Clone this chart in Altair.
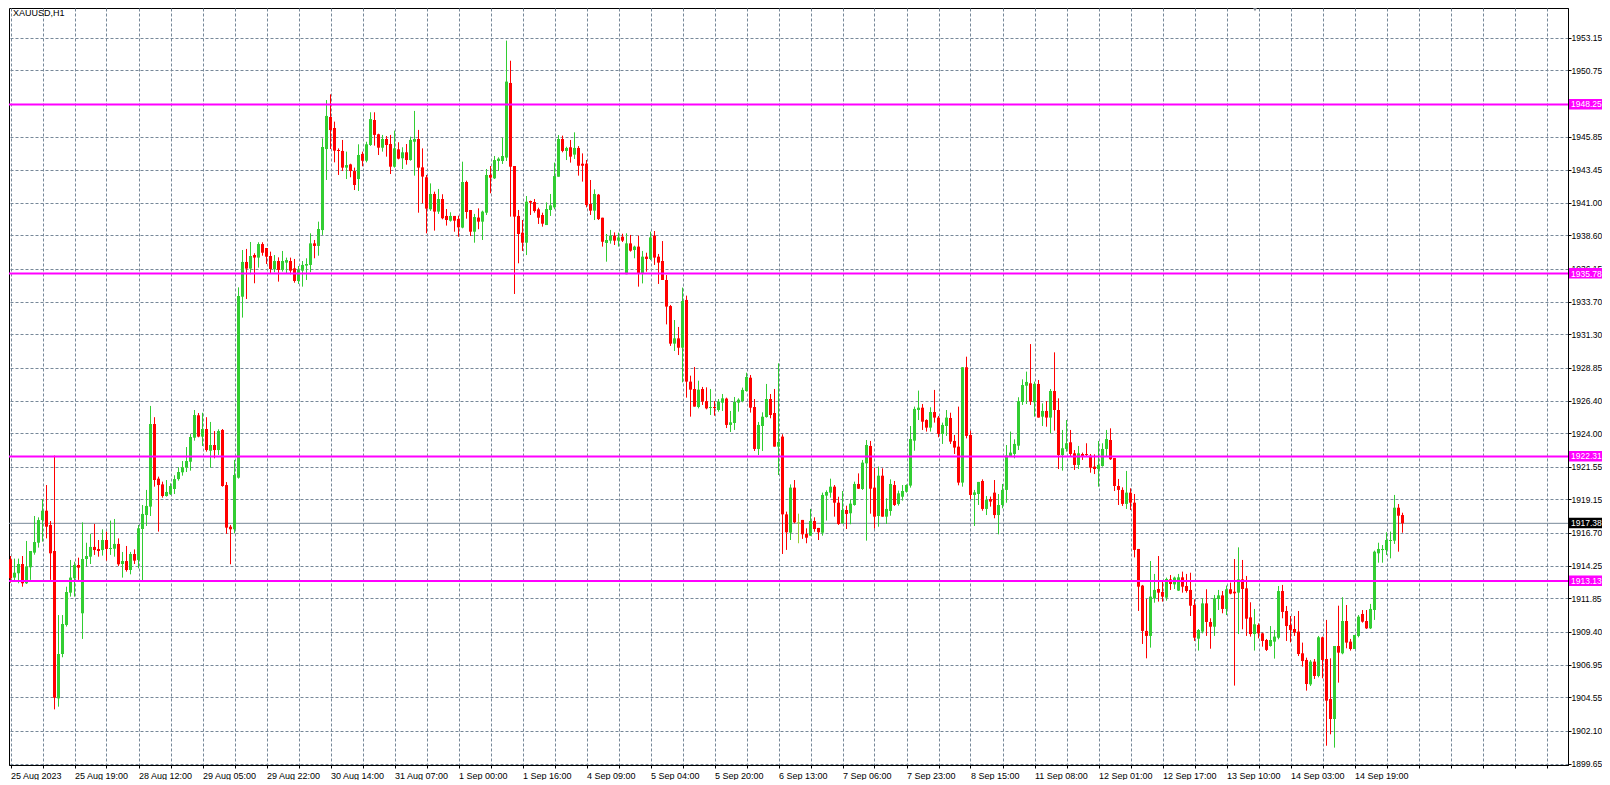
import json
import altair as alt
import pandas as pd

# ---------------- data (XAUUSD, H1) ----------------
OPEN = [1914.73,1913.38,1913.70,1914.38,1912.96,1914.14,1915.22,1915.95,1917.62,1918.31,
1917.26,1915.34,1904.48,1907.75,1909.89,1912.27,1913.33,1914.31,1910.75,1914.75,
1914.92,1915.64,1915.49,1915.41,1916.15,1915.51,1915.51,1915.86,1914.38,1914.60,
1913.94,1915.12,1914.68,1916.96,1917.99,1918.61,1924.70,1920.67,1920.25,1919.39,
1919.52,1919.91,1920.64,1921.14,1921.48,1921.92,1923.69,1925.34,1923.77,1924.33,
1922.73,1923.15,1922.78,1924.26,1920.20,1917.13,1916.94,1920.74,1934.08,1936.64,
1936.15,1937.15,1936.96,1937.96,1937.67,1937.08,1936.12,1936.71,1936.05,1936.59,
1936.71,1936.17,1935.24,1936.00,1936.37,1936.42,1938.01,1937.82,1938.99,1944.96,
1947.32,1946.51,1944.89,1944.82,1943.59,1943.83,1943.34,1942.75,1944.60,1944.10,
1945.26,1947.10,1946.05,1945.06,1945.70,1945.33,1943.66,1944.94,1944.28,1944.72,
1944.15,1945.50,1945.70,1943.61,1942.88,1940.52,1941.65,1940.35,1941.28,1940.03,
1939.68,1940.03,1939.81,1939.17,1942.53,1940.47,1938.87,1939.91,1939.61,1940.27,
1943.05,1942.80,1944.08,1944.08,1944.33,1949.83,1943.71,1940.03,1938.80,1938.06,
1941.13,1941.06,1940.52,1940.10,1939.36,1940.47,1940.66,1942.92,1945.70,1944.82,
1945.09,1944.55,1945.04,1943.88,1943.88,1940.91,1940.42,1941.60,1939.90,1938.04,
1938.21,1938.58,1938.21,1938.50,1935.73,1938.01,1937.52,1937.77,1935.80,1937.03,
1936.86,1938.58,1937.03,1936.71,1935.31,1933.39,1930.62,1931.01,1930.32,1933.84,
1927.82,1927.28,1925.95,1927.28,1926.39,1925.90,1925.95,1925.73,1926.27,1926.57,
1924.63,1924.77,1926.27,1926.39,1927.13,1928.11,1925.95,1922.86,1924.55,1925.21,
1926.54,1925.51,1923.03,1923.77,1918.04,1916.69,1920.01,1917.45,1917.63,1916.59,
1916.47,1917.55,1917.04,1916.69,1919.42,1919.64,1920.08,1918.90,1917.38,1918.36,
1918.12,1918.73,1920.28,1919.91,1921.80,1923.08,1920.01,1917.92,1920.89,1917.87,
1918.29,1920.20,1918.80,1919.34,1919.71,1920.16,1923.47,1925.73,1925.90,1924.99,
1924.43,1925.58,1925.17,1923.96,1924.55,1925.14,1923.45,1923.03,1920.38,1928.88,
1923.89,1919.47,1919.54,1920.50,1918.44,1919.17,1919.64,1917.99,1918.73,1919.84,
1922.29,1922.49,1923.10,1926.32,1927.52,1927.70,1926.30,1927.65,1925.24,1925.66,
1925.17,1927.13,1925.73,1922.41,1922.86,1923.35,1922.54,1921.68,1922.49,1922.49,
1922.37,1921.56,1921.38,1921.60,1922.86,1923.52,1922.19,1920.13,1919.84,1918.81,
1919.64,1918.90,1915.49,1912.79,1909.45,1909.08,1911.85,1912.54,1912.32,1911.90,
1913.25,1912.88,1912.42,1913.40,1912.76,1912.47,1911.36,1908.88,1909.40,1911.48,
1910.11,1909.76,1911.80,1912.07,1911.07,1912.52,1912.34,1912.27,1913.25,1912.59,
1910.45,1909.22,1909.89,1909.27,1908.78,1908.34,1908.66,1908.95,1912.39,1910.92,
1909.89,1909.59,1909.40,1907.80,1907.31,1905.51,1907.19,1906.13,1908.98,1907.38,
1904.43,1902.96,1908.34,1907.80,1910.18,1908.66,1908.12,1909.08,1910.70,1910.18,
1909.64,1910.99,1915.17,1915.41,1915.41,1916.10,1916.10,1918.53,1917.99]

HIGH = [1914.97,1914.78,1914.78,1914.97,1916.08,1915.34,1917.92,1917.82,1919.15,1920.20,
1917.55,1922.37,1910.62,1910.62,1912.71,1914.68,1914.55,1914.85,1917.45,1915.95,
1916.59,1917.33,1916.15,1916.94,1916.77,1917.58,1917.70,1916.27,1915.27,1915.71,
1915.27,1915.46,1917.26,1918.73,1919.84,1926.03,1925.20,1920.82,1920.45,1920.57,
1920.33,1920.92,1921.51,1921.97,1923.00,1923.96,1925.73,1925.51,1925.53,1925.20,
1924.85,1924.18,1924.31,1924.33,1920.42,1917.26,1922.05,1934.77,1937.52,1937.60,
1938.11,1937.28,1938.09,1938.09,1937.67,1937.40,1937.15,1936.98,1937.45,1936.96,
1936.96,1936.86,1936.34,1936.71,1936.91,1938.75,1938.26,1939.61,1945.75,1948.57,
1948.99,1946.98,1945.01,1945.63,1944.77,1943.88,1943.59,1945.31,1944.77,1945.50,
1947.67,1947.67,1946.09,1946.00,1945.92,1946.00,1946.32,1945.46,1945.09,1945.33,
1945.87,1947.77,1946.37,1945.01,1943.05,1942.43,1941.82,1942.02,1941.63,1940.54,
1940.30,1940.03,1940.05,1944.03,1942.63,1940.47,1940.18,1940.59,1940.42,1943.49,
1943.71,1944.45,1944.35,1945.80,1952.95,1951.47,1943.71,1940.47,1939.73,1941.50,
1941.16,1941.28,1940.64,1940.27,1941.03,1941.65,1943.96,1945.99,1945.95,1945.13,
1945.63,1946.19,1945.18,1944.64,1944.15,1942.68,1941.99,1941.65,1939.90,1938.70,
1939.00,1938.82,1938.80,1938.72,1938.75,1938.63,1937.84,1938.58,1937.45,1937.32,
1938.87,1938.92,1937.23,1938.18,1935.68,1933.47,1932.36,1931.85,1934.75,1934.16,
1928.26,1928.90,1927.89,1927.43,1927.40,1927.28,1926.39,1926.54,1926.91,1926.64,
1925.66,1926.69,1926.59,1927.38,1928.48,1928.31,1926.54,1924.85,1925.56,1927.65,
1926.91,1927.28,1929.17,1923.94,1918.24,1920.25,1920.57,1918.09,1917.63,1917.01,
1918.44,1917.82,1917.04,1919.64,1919.81,1920.67,1920.20,1919.34,1919.76,1918.68,
1919.15,1920.45,1921.06,1922.05,1923.52,1923.45,1921.48,1921.56,1921.43,1919.22,
1920.62,1920.50,1919.79,1920.20,1920.25,1924.55,1925.98,1927.16,1926.17,1925.04,
1925.93,1927.21,1925.29,1924.80,1925.73,1925.53,1923.89,1925.98,1928.88,1929.66,
1924.21,1919.84,1920.43,1920.62,1919.39,1919.35,1920.57,1919.54,1920.28,1923.15,
1924.14,1923.57,1926.67,1927.99,1928.56,1930.59,1927.82,1927.94,1926.22,1926.39,
1927.28,1929.98,1926.59,1924.26,1924.99,1924.26,1922.78,1923.08,1922.59,1923.28,
1922.49,1922.46,1923.45,1923.28,1924.26,1924.38,1922.19,1920.65,1920.03,1921.24,
1919.96,1919.54,1915.49,1912.84,1911.80,1914.60,1913.65,1914.97,1913.20,1913.38,
1913.57,1913.45,1913.65,1913.82,1913.65,1913.74,1911.78,1909.59,1911.85,1912.52,
1910.38,1912.10,1912.47,1912.39,1912.79,1913.01,1914.75,1915.61,1914.68,1913.50,
1911.56,1911.07,1910.01,1909.32,1908.86,1909.81,1909.52,1912.76,1912.84,1911.29,
1910.55,1910.55,1910.92,1908.59,1907.48,1907.31,1907.38,1909.08,1909.03,1910.26,
1907.43,1908.34,1911.31,1911.93,1911.36,1908.86,1909.15,1910.62,1910.99,1910.99,
1911.44,1915.37,1915.95,1915.78,1916.72,1916.77,1919.47,1918.80,1918.16]

LOW = [1913.01,1913.06,1912.96,1912.71,1912.91,1913.21,1915.07,1915.59,1916.03,1916.27,
1913.21,1903.67,1903.87,1907.51,1909.77,1911.98,1911.98,1913.21,1908.86,1914.19,
1914.38,1915.05,1914.92,1915.00,1914.63,1915.05,1914.92,1914.24,1913.38,1913.82,
1913.62,1914.38,1914.06,1913.20,1917.18,1917.92,1920.08,1916.77,1919.27,1919.35,
1919.47,1919.54,1920.52,1920.89,1921.16,1921.26,1923.47,1923.72,1923.08,1922.66,
1921.48,1922.17,1922.42,1920.08,1916.60,1914.36,1916.64,1920.67,1932.54,1933.91,
1935.73,1935.07,1936.22,1937.10,1936.49,1935.80,1935.88,1935.19,1935.93,1935.80,
1935.73,1935.11,1935.02,1934.82,1935.31,1935.88,1936.91,1937.10,1938.63,1942.68,
1944.96,1943.98,1943.05,1943.34,1942.75,1942.88,1941.94,1941.87,1943.69,1943.98,
1945.19,1945.21,1944.52,1944.77,1944.40,1943.12,1943.59,1944.20,1943.49,1943.81,
1944.10,1943.00,1940.27,1940.96,1938.75,1940.40,1938.95,1940.18,1939.78,1939.32,
1939.61,1938.87,1938.50,1939.12,1939.83,1938.55,1938.06,1939.05,1938.26,1940.10,
1941.70,1942.75,1943.34,1943.86,1944.08,1939.98,1934.28,1936.54,1937.45,1937.15,
1940.10,1940.27,1939.44,1939.24,1939.36,1940.03,1940.52,1942.92,1944.72,1944.15,
1943.96,1944.23,1943.00,1942.56,1940.66,1940.10,1939.73,1939.73,1937.77,1936.66,
1937.99,1937.89,1937.77,1938.11,1935.73,1937.40,1936.91,1934.82,1935.06,1935.92,
1936.78,1936.42,1935.02,1935.31,1932.04,1930.45,1930.08,1929.78,1927.77,1926.64,
1925.24,1925.98,1925.85,1926.10,1925.78,1925.36,1925.31,1925.61,1925.66,1924.40,
1924.11,1924.26,1925.61,1926.30,1927.08,1925.54,1922.71,1922.41,1922.71,1925.17,
1925.12,1923.03,1920.94,1915.12,1915.42,1916.15,1917.38,1915.91,1916.23,1915.91,
1916.47,1916.76,1916.15,1916.47,1917.58,1919.27,1917.87,1917.26,1917.38,1916.96,
1917.31,1918.68,1919.91,1919.84,1916.10,1918.09,1916.99,1917.13,1917.87,1917.33,
1917.94,1918.66,1918.68,1919.05,1919.64,1920.01,1922.73,1924.99,1924.26,1924.14,
1924.14,1924.80,1923.72,1923.23,1923.82,1923.23,1922.49,1920.18,1920.08,1923.64,
1919.15,1917.18,1918.73,1918.31,1917.99,1918.61,1917.75,1916.57,1918.49,1918.90,
1922.29,1922.17,1922.78,1926.10,1926.17,1926.10,1925.24,1925.17,1924.55,1924.50,
1924.01,1924.21,1921.38,1921.26,1922.66,1922.29,1921.31,1921.38,1922.05,1922.29,
1921.11,1921.01,1920.08,1921.56,1922.29,1922.05,1919.76,1918.73,1918.66,1918.44,
1918.36,1914.87,1910.92,1908.49,1907.43,1908.22,1911.53,1911.61,1911.61,1911.68,
1912.47,1912.54,1912.39,1912.27,1912.27,1910.55,1908.71,1908.00,1909.27,1909.08,
1908.14,1909.08,1910.99,1910.75,1910.62,1912.15,1905.42,1909.22,1909.57,1909.08,
1909.03,1908.00,1908.90,1908.29,1907.97,1908.29,1907.41,1908.83,1910.38,1908.71,
1908.61,1909.08,1907.60,1906.82,1905.05,1905.39,1905.91,1906.03,1905.96,1900.99,
1901.83,1900.85,1905.64,1907.73,1908.17,1908.00,1908.12,1908.98,1910.06,1909.59,
1909.59,1910.26,1914.48,1914.48,1915.05,1914.80,1915.86,1915.29,1916.69]

CLOSE = [1913.33,1913.74,1914.38,1912.96,1914.19,1915.34,1916.00,1917.62,1918.31,1917.13,
1915.17,1904.53,1907.75,1909.96,1912.32,1913.38,1914.31,1914.11,1914.75,1914.97,
1915.64,1915.41,1915.34,1916.15,1915.49,1915.56,1915.86,1914.36,1914.60,1913.94,
1915.12,1914.63,1917.01,1918.07,1918.66,1924.70,1920.57,1920.20,1919.39,1919.69,
1920.13,1920.64,1921.16,1921.51,1921.97,1923.74,1925.36,1923.77,1924.33,1922.78,
1923.15,1922.78,1924.18,1920.13,1917.06,1916.94,1920.94,1934.13,1936.64,1936.15,
1937.08,1936.96,1937.96,1937.32,1937.03,1936.12,1936.71,1936.05,1936.71,1936.78,
1936.00,1935.24,1936.05,1936.42,1936.49,1938.01,1937.82,1939.07,1945.11,1947.40,
1946.36,1944.84,1944.82,1943.59,1943.78,1943.34,1942.31,1944.52,1944.10,1945.31,
1947.17,1946.00,1945.06,1945.70,1945.26,1943.66,1945.01,1944.25,1944.72,1944.15,
1945.63,1945.70,1943.59,1942.93,1940.57,1941.65,1940.35,1941.28,1939.86,1939.73,
1940.03,1939.68,1939.19,1942.53,1940.32,1938.87,1939.95,1939.61,1940.35,1943.05,
1942.85,1944.15,1944.25,1944.45,1949.93,1943.66,1939.98,1938.70,1938.06,1941.08,
1941.01,1940.39,1939.90,1939.46,1940.54,1940.81,1942.97,1945.70,1944.82,1945.04,
1944.40,1945.04,1943.73,1943.73,1940.84,1940.42,1941.65,1939.80,1938.13,1938.26,
1938.58,1938.21,1938.45,1938.21,1938.01,1937.47,1937.77,1935.80,1937.03,1936.86,
1938.45,1936.96,1936.59,1935.31,1933.35,1930.62,1931.01,1930.32,1933.76,1927.82,
1927.23,1925.98,1927.23,1926.35,1925.85,1925.95,1925.90,1926.35,1926.59,1924.63,
1924.82,1926.32,1926.49,1927.21,1928.16,1925.90,1922.86,1924.63,1925.24,1926.54,
1925.36,1923.03,1923.37,1918.04,1916.72,1920.01,1917.45,1917.45,1916.57,1916.32,
1917.55,1916.96,1916.72,1919.47,1919.69,1920.08,1918.90,1917.33,1918.36,1918.07,
1918.83,1920.28,1919.93,1921.85,1923.15,1919.93,1917.87,1920.89,1917.87,1918.44,
1920.28,1918.73,1919.59,1919.76,1920.20,1923.59,1925.81,1925.90,1924.87,1924.43,
1925.58,1925.17,1923.96,1924.63,1925.17,1923.40,1922.96,1920.38,1928.88,1923.82,
1919.47,1919.66,1920.43,1918.44,1919.10,1918.98,1917.99,1918.73,1919.84,1922.37,
1922.59,1923.23,1926.38,1927.57,1927.80,1926.35,1927.65,1925.17,1925.66,1925.17,
1927.13,1925.73,1922.41,1922.91,1923.28,1922.49,1921.68,1922.54,1922.34,1922.46,
1921.48,1921.38,1921.68,1922.86,1923.59,1922.10,1920.13,1919.84,1918.81,1919.64,
1918.90,1915.42,1912.71,1909.45,1909.08,1911.98,1912.47,1912.27,1911.98,1913.28,
1912.91,1913.38,1913.40,1912.71,1912.39,1911.31,1908.95,1909.52,1911.48,1910.11,
1909.76,1911.85,1912.07,1911.07,1912.52,1912.20,1912.22,1913.25,1912.54,1910.35,
1909.22,1909.94,1909.27,1908.71,1908.05,1908.78,1909.03,1912.39,1910.85,1909.81,
1909.52,1909.32,1907.75,1907.23,1905.54,1907.19,1906.13,1908.98,1907.31,1904.31,
1902.96,1908.34,1907.85,1910.18,1908.59,1908.12,1909.15,1910.50,1910.13,1909.64,
1911.07,1915.29,1915.49,1915.49,1916.15,1916.15,1918.53,1917.94,1917.38]

TIME_LABELS = ["25 Aug 2023", "25 Aug 19:00", "28 Aug 12:00", "29 Aug 05:00",
               "29 Aug 22:00", "30 Aug 14:00", "31 Aug 07:00", "1 Sep 00:00",
               "1 Sep 16:00", "4 Sep 09:00", "5 Sep 04:00", "5 Sep 20:00",
               "6 Sep 13:00", "7 Sep 06:00", "7 Sep 23:00", "8 Sep 15:00",
               "11 Sep 08:00", "12 Sep 01:00", "12 Sep 17:00", "13 Sep 10:00",
               "14 Sep 03:00", "14 Sep 19:00"]
BARS_PER_LABEL = 16
BARS_PER_GRID = 8

PRICE_TICKS = [1899.65, 1902.10, 1904.55, 1906.95, 1909.40, 1911.85, 1914.25,
               1916.70, 1919.15, 1921.55, 1924.00, 1926.40, 1928.85, 1931.30,
               1933.70, 1936.15, 1938.60, 1941.00, 1943.45, 1945.85, 1948.30,
               1950.75, 1953.15]
LEVELS = [1948.25, 1935.78, 1922.31, 1913.13]
LAST_PRICE = 1917.38
SYMBOL = "XAUUSD,H1"

# ---------------- layout ----------------
W, H = 1559, 757
PAD_R, PAD_B = 34, 15
Y_MIN, Y_MAX = 1899.57, 1955.354
X_MIN, X_MAX = -0.375, 389.375
PX = (Y_MAX - Y_MIN) / H          # price per pixel
FONT = "Liberation Sans"
FS = 8.5
UP, DOWN, DOJI = "#32CD32", "#FF0000", "#9ACD32"
GRID = "#778899"
MAGENTA = "#FF00FF"

n = len(CLOSE)
df = pd.DataFrame({"i": list(range(n)), "open": OPEN, "high": HIGH,
                   "low": LOW, "close": CLOSE})
df["color"] = [DOJI if o == c else (UP if c > o else DOWN) for o, c in zip(OPEN, CLOSE)]
df["top"] = df[["open", "close"]].max(axis=1)
df["bot"] = [min(b, t - PX) for b, t in zip(df[["open", "close"]].min(axis=1), df["top"])]

labels_js = json.dumps(TIME_LABELS)
last_lab = (len(TIME_LABELS) - 1) * BARS_PER_LABEL
grid_vals = list(range(0, int(X_MAX) + 1, BARS_PER_GRID))
x_axis = alt.Axis(values=grid_vals, title=None,
                  labelExpr=f"(datum.value % {BARS_PER_LABEL} == 0 && datum.value <= {last_lab}) ? "
                            f"{labels_js}[datum.value / {BARS_PER_LABEL}] : ''",
                  labelAlign="left", labelBaseline="top", labelPadding=3, labelFontSize=9,
                  tickSize=3, labelFlush=False, labelOverlap=False, labelBound=False,
                  grid=True)
y_axis = alt.Axis(orient="right", values=PRICE_TICKS, format=".2f", title=None,
                  tickSize=3, labelPadding=0, labelAlign="left", labelBaseline="middle",
                  labelFontSize=FS,
                  grid=True, labelOverlap=False, labelFlush=False, labelBound=False)
xs = alt.Scale(domain=[X_MIN, X_MAX], nice=False, zero=False, padding=0)
ys = alt.Scale(domain=[Y_MIN, Y_MAX], nice=False, zero=False, padding=0)

def X(f):
    return alt.X(f, type="quantitative", scale=xs, axis=x_axis)

def Y(f):
    return alt.Y(f, type="quantitative", scale=ys, axis=y_axis)

base = alt.Chart(df)

last_df = pd.DataFrame({"p": [LAST_PRICE]})
last_line = alt.Chart(last_df).mark_rule(color=GRID, strokeWidth=1).encode(y=Y("p"))

wicks = base.mark_rule(strokeWidth=1).encode(
    x=X("i"), y=Y("low"), y2="high", color=alt.Color("color:N", scale=None))
bodies = base.mark_bar(size=3).encode(
    x=X("i"), y=Y("bot"), y2="top", color=alt.Color("color:N", scale=None))

lev_df = pd.DataFrame({"p": LEVELS})
lev_lines = alt.Chart(lev_df).mark_rule(color=MAGENTA, strokeWidth=2).encode(y=Y("p"))

box_df = pd.DataFrame({"p": LEVELS + [LAST_PRICE],
                       "fill": [MAGENTA] * len(LEVELS) + ["#000000"]})
box_df["t"] = [f"{v:.2f}" for v in box_df["p"]]
box_df["hi"] = box_df["p"] + 5.5 * PX
box_df["lo"] = box_df["p"] - 5.0 * PX
boxes = alt.Chart(box_df).mark_rect().encode(
    x=alt.value(W + 1), x2=alt.value(W + PAD_R), y=Y("lo"), y2="hi",
    color=alt.Color("fill:N", scale=None))
box_text = alt.Chart(box_df).mark_text(align="left", baseline="middle", font=FONT,
                                       fontSize=FS, color="white").encode(
    x=alt.value(W + 3), y=Y("p"), text="t:N")

title_df = pd.DataFrame({"t": [SYMBOL]})
title = alt.Chart(title_df).mark_text(align="left", baseline="middle", font=FONT,
                                      fontSize=9, color="black").encode(
    x=alt.value(4), y=alt.value(5), text="t:N")

marker = alt.Chart(pd.DataFrame({"m": [1]})).mark_point(
    shape="triangle-down", filled=True, color="#7f8790", size=30, opacity=1).encode(
    x=alt.value(1246), y=alt.value(1))

chart = alt.layer(last_line, wicks, bodies, lev_lines, boxes, box_text, title, marker).properties(
    width=W, height=H, autosize="none",
    padding={"left": 1, "top": 0, "right": PAD_R, "bottom": PAD_B},
).configure(background="white").configure_view(
    stroke="black", strokeWidth=1
).configure_axis(
    domainColor="black", domainWidth=1, tickColor="black", tickWidth=1,
    labelColor="black", labelFont=FONT, labelFontSize=9,
    gridColor=GRID, gridDash=[3, 2], gridWidth=1, gridOpacity=1
)

chart.save("out.html", embed_options={"renderer": "svg", "actions": False})
